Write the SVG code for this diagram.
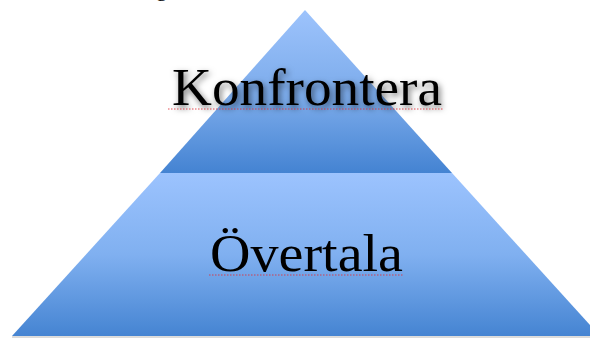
<svg xmlns="http://www.w3.org/2000/svg" width="590" height="338" viewBox="0 0 590 338">
<style>
.lbl{font-family:"Liberation Serif","DejaVu Serif",serif;font-size:53px;fill:#000}
.sq{stroke:#e0303a;stroke-width:1;stroke-dasharray:1.5 1.5;fill:none;opacity:0.85}
</style>
<defs>
<linearGradient id="gTop" x1="0" y1="0" x2="0" y2="1">
<stop offset="0" stop-color="#9dc3fc"/>
<stop offset="0.55" stop-color="#7aaaea"/>
<stop offset="1" stop-color="#4483d2"/>
</linearGradient>
<linearGradient id="gBot" x1="0" y1="0" x2="0" y2="1">
<stop offset="0" stop-color="#9cc3fe"/>
<stop offset="0.5" stop-color="#80b0f0"/>
<stop offset="1" stop-color="#4584d2"/>
</linearGradient>
<filter id="sh" x="-10%" y="-30%" width="120%" height="160%">
<feDropShadow dx="2" dy="3" stdDeviation="3" flood-color="#000" flood-opacity="0.55"/>
</filter>
</defs>
<text x="156" y="-4" style="font-family:'Liberation Serif',serif;font-size:22px;fill:#000">g</text>
<g id="bottom-level">
<polygon points="160,173 452,173 600,336 12,336" fill="url(#gBot)"/>
<line x1="12" y1="337" x2="590" y2="337" stroke="#b8b8b8" stroke-width="1"/>
<text class="lbl" x="210" y="271" textLength="193" lengthAdjust="spacingAndGlyphs">Övertala</text>
<path class="sq" d="M209,275 L404,275"/>
</g>
<g id="top-level">
<polygon points="305,10 452,173 160,173" fill="url(#gTop)"/>
<text class="lbl" x="172" y="105" textLength="270" lengthAdjust="spacingAndGlyphs" filter="url(#sh)">Konfrontera</text>
<path class="sq" d="M168,109 L443,109"/>
</g>
<g id="connectors"/>
</svg>
